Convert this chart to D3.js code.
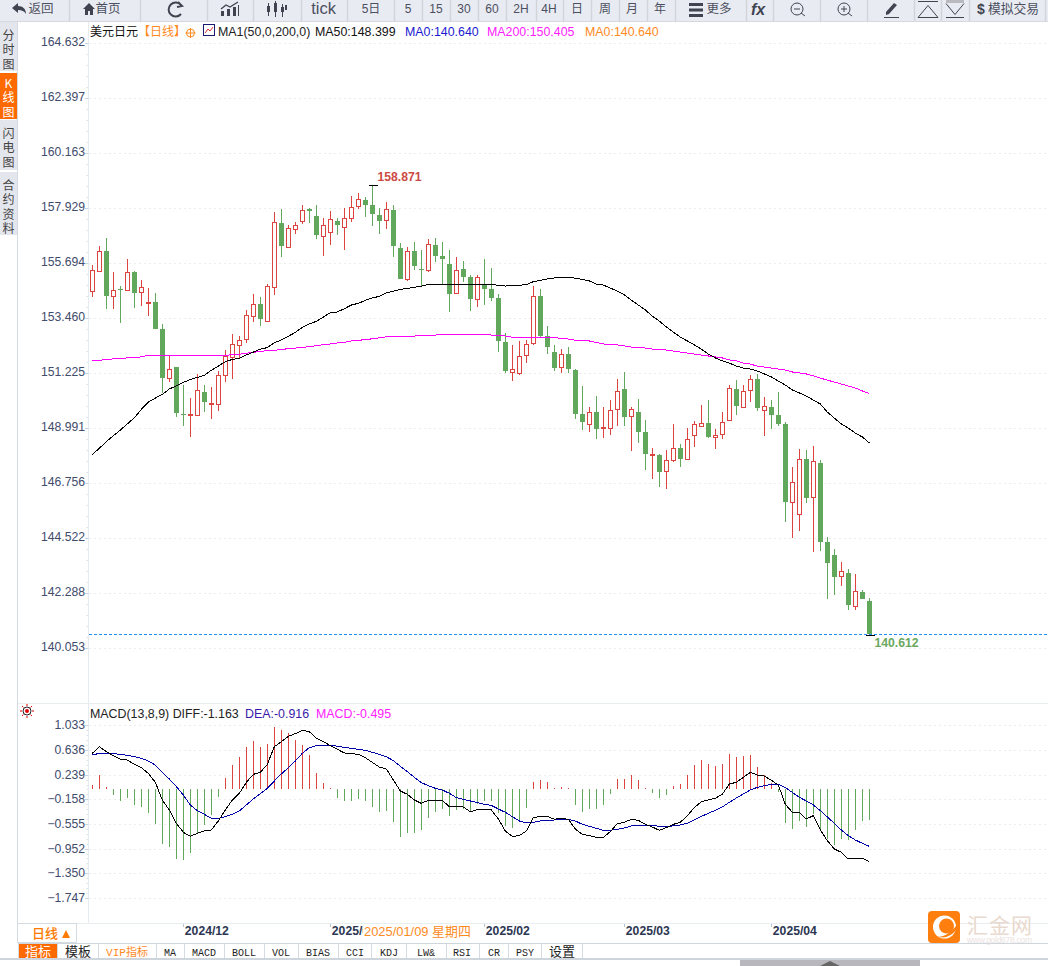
<!DOCTYPE html>
<html>
<head>
<meta charset="utf-8">
<title>美元日元</title>
<script src="https://cdn.jsdelivr.net/npm/d3@7"></script>
<style>
  html,body{margin:0;padding:0;background:#fff;overflow:hidden}
  svg{display:block}
  text{font-family:"Liberation Sans","Noto Sans CJK SC",sans-serif}
  .cjk{font-family:"Noto Sans CJK SC",sans-serif}
  .mono{font-family:"Liberation Mono","Noto Sans CJK SC",monospace}
</style>
</head>
<body>
<script>
//candles, oldest first
var openPrices = [154.56,155.37,156.20,154.35,154.65,154.60,155.33,154.52,154.07,154.11,
  153.01,151.02,151.47,149.56,149.52,149.52,150.45,149.98,149.97,151.14,
  151.88,152.36,152.61,153.54,154.03,153.34,154.72,157.32,156.37,157.08,
  157.40,157.89,157.60,156.79,156.95,157.40,157.16,157.52,158.01,158.25,
  158.06,157.64,157.44,157.86,156.30,155.07,156.18,155.45,155.44,156.43,
  155.98,155.65,154.48,155.45,155.14,154.26,154.81,154.64,154.27,152.48,
  151.29,151.25,151.96,152.44,154.35,152.73,152.08,151.47,152.00,151.35,
  149.56,149.15,149.64,148.99,149.02,149.79,150.59,149.48,149.65,148.84,
  147.91,147.91,147.24,147.72,148.19,147.76,148.71,149.10,149.19,148.65,
  148.75,149.32,150.58,149.84,150.53,150.99,149.72,149.86,149.53,149.17,
  145.98,145.50,147.74,146.19,147.58,144.37,143.84,142.98,143.11,141.79,
  142.34,141.96];
var closePrices = [155.41,156.18,154.38,154.60,154.60,155.33,154.50,154.72,154.11,153.04,
  151.05,151.42,149.63,149.53,149.56,150.53,150.07,150.01,151.14,151.92,
  152.40,152.57,153.58,154.03,153.45,154.76,157.36,156.41,157.12,157.24,
  157.85,157.83,156.83,157.24,157.48,157.27,157.52,157.97,158.29,158.08,
  157.71,157.43,157.89,156.41,155.07,156.18,155.60,155.44,156.47,156.01,
  155.88,154.46,155.41,155.15,154.26,155.13,154.67,154.30,152.55,151.33,
  151.39,151.92,152.40,154.35,152.76,152.31,151.46,152.00,151.42,149.59,
  149.26,149.64,148.98,149.03,149.72,150.49,149.47,149.76,148.86,147.96,
  147.94,147.23,147.69,148.18,147.75,148.54,149.15,149.19,148.64,148.71,
  149.24,150.62,149.88,150.49,150.98,149.83,149.88,149.55,149.17,146.01,
  146.80,147.73,146.17,147.65,144.39,143.53,142.96,143.18,141.83,142.37,
  142.07,140.64];
var highPrices = [155.63,156.40,156.71,155.33,154.77,155.87,155.37,155.00,154.69,154.48,
  153.23,151.94,151.50,150.75,150.22,151.18,150.75,150.66,151.31,152.16,
  152.82,152.74,153.80,154.45,154.33,154.84,157.78,157.90,157.24,157.36,
  158.06,157.93,158.06,157.52,157.81,157.52,157.93,158.43,158.55,158.39,
  158.871,157.94,158.17,158.06,156.51,156.34,156.56,156.24,156.68,156.71,
  156.56,156.24,155.94,155.78,155.21,155.21,155.87,155.49,154.44,152.85,
  152.36,152.53,152.57,154.77,154.64,153.15,152.36,152.20,152.28,151.39,
  150.70,149.84,150.31,149.86,150.14,151.00,151.28,149.86,150.18,149.33,
  148.18,147.96,148.11,149.17,148.35,148.99,149.28,149.94,150.14,148.95,
  149.64,150.75,150.95,150.75,151.16,151.20,150.25,150.14,150.47,149.25,
  147.42,148.15,148.11,148.27,147.70,144.56,144.09,143.56,143.28,143.07,
  142.42,142.10];
var lowPrices = [154.34,155.37,153.84,153.84,153.28,154.56,153.89,153.97,153.55,153.01,
  150.41,150.89,149.47,149.09,148.65,149.52,149.67,149.38,149.71,150.89,
  151.00,151.84,152.47,153.32,153.16,153.34,154.41,155.97,156.34,156.90,
  157.29,157.35,156.67,156.01,156.45,156.86,156.25,157.39,157.90,157.59,
  157.22,156.90,157.10,155.97,155.06,154.99,155.42,154.77,155.36,155.75,
  154.84,153.73,154.48,154.94,153.77,153.93,154.02,154.18,152.11,151.25,
  150.93,151.17,151.66,152.36,152.67,152.02,151.31,151.25,151.25,149.38,
  148.94,148.86,148.57,148.61,148.73,149.10,149.10,148.08,148.41,147.31,
  146.95,146.62,146.54,147.64,147.43,147.72,148.25,149.10,148.61,148.17,
  148.57,149.32,149.53,149.84,150.06,149.71,148.69,148.96,149.09,145.20,
  144.55,144.83,145.96,143.98,144.01,142.06,142.22,142.60,141.61,141.62,
  142.06,140.612];

//moving averages
var ma50 = [147.93,148.18,148.45,148.69,148.92,149.17,149.42,149.76,150.06,150.22,
  150.37,150.59,150.71,150.86,150.97,151.06,151.14,151.35,151.52,151.70,
  151.79,151.84,151.97,152.09,152.21,152.27,152.47,152.58,152.73,152.89,
  153.09,153.23,153.34,153.51,153.69,153.72,153.85,154.00,154.07,154.19,
  154.29,154.35,154.50,154.56,154.64,154.67,154.72,154.77,154.84,154.84,
  154.84,154.84,154.84,154.84,154.84,154.84,154.84,154.84,154.80,154.77,
  154.80,154.80,154.83,154.95,155.00,155.06,155.10,155.13,155.13,155.09,
  155.04,154.98,154.85,154.81,154.69,154.57,154.41,154.20,154.00,153.80,
  153.55,153.35,153.11,152.90,152.70,152.54,152.38,152.21,152.01,151.85,
  151.73,151.64,151.52,151.44,151.40,151.32,151.20,151.08,150.91,150.75,
  150.55,150.43,150.30,150.14,149.98,149.65,149.41,149.17,149.00,148.80,
  148.64,148.40];
var ma200 = [151.74,151.75,151.79,151.81,151.84,151.85,151.88,151.89,151.96,151.96,
  151.96,151.96,151.96,151.96,151.96,151.96,151.96,151.96,151.96,151.96,
  151.98,152.00,152.04,152.08,152.11,152.15,152.16,152.19,152.23,152.25,
  152.28,152.31,152.35,152.39,152.42,152.46,152.48,152.54,152.57,152.59,
  152.63,152.67,152.71,152.74,152.74,152.74,152.74,152.76,152.77,152.78,
  152.81,152.81,152.81,152.81,152.81,152.81,152.81,152.78,152.76,152.74,
  152.69,152.69,152.69,152.69,152.69,152.69,152.67,152.65,152.62,152.57,
  152.57,152.54,152.48,152.42,152.38,152.38,152.34,152.29,152.29,152.25,
  152.21,152.21,152.17,152.13,152.09,152.05,152.01,151.97,151.93,151.89,
  151.85,151.77,151.73,151.64,151.60,151.52,151.48,151.44,151.40,151.36,
  151.28,151.24,151.20,151.12,151.03,150.95,150.87,150.79,150.71,150.63,
  150.51,150.41];

//macd panel
var diffValues = [.582,.689,.609,.545,.486,.475,.405,.351,.260,.115,
  -.169,-.330,-.545,-.689,-.754,-.705,-.668,-.652,-.507,-.330,
  -.169,-.062,.115,.244,.276,.405,.689,.770,.856,.899,
  .952,.931,.824,.770,.706,.647,.588,.577,.566,.512,
  .437,.362,.330,.153,-.024,-.078,-.169,-.223,-.174,-.174,
  -.174,-.276,-.271,-.282,-.357,-.325,-.325,-.330,-.475,-.668,
  -.754,-.743,-.668,-.453,-.432,-.432,-.480,-.464,-.480,-.636,
  -.722,-.743,-.770,-.770,-.679,-.550,-.528,-.480,-.496,-.561,
  -.604,-.657,-.614,-.561,-.528,-.421,-.292,-.196,-.169,-.142,
  -.078,.089,.115,.196,.276,.233,.217,.148,.072,-.239,
  -.367,-.367,-.475,-.421,-.652,-.824,-.958,-1.011,-1.119,-1.119,
  -1.108,-1.163];
var deaValues = [.555,.582,.582,.577,.566,.550,.528,.502,.459,.394,
  .276,.169,.046,-.089,-.249,-.341,-.400,-.464,-.464,-.437,
  -.400,-.346,-.249,-.153,-.067,.019,.137,.250,.351,.459,
  .582,.673,.706,.711,.716,.695,.679,.663,.647,.630,
  .598,.566,.528,.464,.373,.287,.196,.110,.062,.019,
  -.008,-.062,-.131,-.158,-.185,-.212,-.239,-.255,-.314,-.367,
  -.437,-.507,-.539,-.528,-.507,-.496,-.491,-.480,-.480,-.507,
  -.561,-.593,-.625,-.657,-.657,-.641,-.620,-.587,-.577,-.577,
  -.577,-.593,-.593,-.587,-.571,-.545,-.491,-.432,-.384,-.335,
  -.282,-.207,-.137,-.072,-.008,.035,.062,.083,.083,.030,
  -.046,-.126,-.185,-.249,-.341,-.443,-.545,-.652,-.743,-.813,
  -.866,-.916];
var macdValues = [.072,.233,.040,-.089,-.185,-.137,-.249,-.282,-.378,-.555,
  -.877,-.925,-1.119,-1.135,-1.022,-.700,-.571,-.410,-.121,.185,
  .394,.523,.684,.781,.684,.732,1.006,.958,.909,.797,
  .716,.555,.266,.105,.020,-.137,-.185,-.185,-.153,-.185,
  -.282,-.362,-.346,-.523,-.764,-.700,-.700,-.652,-.459,-.362,
  -.314,-.426,-.330,-.314,-.346,-.233,-.185,-.185,-.378,-.587,
  -.620,-.491,-.298,.121,.153,.121,.020,.040,.020,-.249,
  -.362,-.314,-.314,-.249,-.072,.169,.169,.233,.153,.020,
  -.056,-.137,-.089,.056,.089,.233,.394,.475,.410,.378,
  .410,.571,.523,.539,.555,.362,.233,.105,-.040,-.539,
  -.636,-.507,-.604,-.394,-.652,-.797,-.893,-.797,-.813,-.652,
  -.507,-.495];

//tick labels
var priceTicks = [164.632,162.397,160.163,157.929,155.694,153.460,151.225,148.991,146.756,144.522,142.288,140.053];
var macdTicks = [1.033,0.636,0.239,-0.158,-0.555,-0.952,-1.350,-1.747];
var dateLabels = ["2024/12","2025/01","2025/02","2025/03","2025/04"];
var dateIndex = [13,34,56,76,97];

var toolbarLabels = ["返回","首页","tick","5日","5","15","30","60","2H","4H","日","周","月","年","更多","模拟交易"];
var toolbarCenters = [41,108,323.500,371,408,436,464,492,521,549,577,605,632,660,719,1013.500];
var toolbarSeps = [69,140,207,253,301,347,394,422,450,478,506,536,563,591,619,647,675,746,773,820,867,914,941,969,1045];

var tabLabels = ["指标","模板","VIP指标","MA","MACD","BOLL","VOL","BIAS","CCI","KDJ","LW&","RSI","CR","PSY","设置"];
var tabCenters = [38,78,127,170,204,244,281,318,355,389,426,462,494,525,562];
var tabSeps = [18,57,98,156,184,224,264,298,338,371,406,446,479,508,541,582];

var RED = "#dc453f", GREEN = "#62a85c", AXIS_TXT = "#414b6b";

var svg = d3.select("body").append("svg").attr("width",1048).attr("height",966);

var x = d3.scaleLinear().domain([0,111]).range([92.33,869.33]);
var y = d3.scaleLinear().domain([priceTicks[0],priceTicks[11]]).range([43.33,648.33]);
var yM = d3.scaleLinear().domain([macdTicks[0],macdTicks[7]]).range([725.33,898]);

var px = function(i){ return Math.floor(x(i)) + 0.5 };

// ---------- chart frame and grid ----------
var frame = svg.append("g");
frame.append("line").attr("x1",17.5).attr("x2",17.5).attr("y1",22).attr("y2",943).attr("stroke","#d5dbe3");
frame.append("line").attr("x1",88.5).attr("x2",88.5).attr("y1",22).attr("y2",923).attr("stroke","#e6ebf0");
frame.append("line").attr("x1",18).attr("x2",1048).attr("y1",703.5).attr("y2",703.5).attr("stroke","#e8edf0");
frame.append("line").attr("x1",76).attr("x2",1048).attr("y1",923.5).attr("y2",923.5).attr("stroke","#e8edf0");

function grid(ticks,scale){
  svg.append("g").selectAll("line").data(ticks).enter().append("line")
    .attr("x1",89).attr("x2",1048)
    .attr("y1",function(d){return Math.round(scale(d))+0.5})
    .attr("y2",function(d){return Math.round(scale(d))+0.5})
    .attr("stroke","#ececec").attr("stroke-dasharray","2,3");
}
grid(priceTicks,y);
grid(macdTicks,yM);

//small ticks on the value axis, five to a label
function minorTicks(ticks,scale){
  var step = (scale(ticks[1]) - scale(ticks[0])) / 5;
  var rows = d3.range(0,(ticks.length-1)*5+1);
  svg.append("g").selectAll("line").data(rows).enter().append("line")
    .attr("x1",function(d){return d%5==0 ? 85 : 86.5}).attr("x2",88)
    .attr("y1",function(d){return Math.round(scale(ticks[0])+d*step)+0.5})
    .attr("y2",function(d){return Math.round(scale(ticks[0])+d*step)+0.5})
    .attr("stroke",function(d){return d%5==0 ? "#c4d6e6" : "#d8e2ea"});
}
minorTicks(priceTicks,y);
minorTicks(macdTicks,yM);

function valueAxis(ticks,scale,fmt,shift){
  var g = svg.append("g").attr("transform","translate(88,0)")
    .call(d3.axisLeft(scale).tickValues(ticks).tickSize(0).tickPadding(3).tickFormat(fmt));
  g.select(".domain").remove();
  g.selectAll("text").attr("fill",AXIS_TXT).attr("font-size",12.2)
    .attr("font-family",'"Liberation Sans"').attr("transform","translate(0,"+shift+")");
}
valueAxis(priceTicks,y,d3.format(".3f"),-1.3);
valueAxis(macdTicks,yM,d3.format(".3f"),-0.5);

// ---------- candles ----------
var candles = d3.range(openPrices.length);
var candleG = svg.append("g").attr("shape-rendering","crispEdges");

var isUp = function(i){ return closePrices[i] > openPrices[i] };

candleG.selectAll(".wick").data(candles).enter().append("line")
  .attr("class","wick")
  .attr("x1",px).attr("x2",px)
  .attr("y1",function(i){return y(highPrices[i])})
  .attr("y2",function(i){return y(lowPrices[i])})
  .attr("stroke",function(i){return isUp(i) ? RED : GREEN});

candleG.selectAll(".upBox").data(candles.filter(isUp)).enter().append("rect")
  .attr("class","upBox")
  .attr("x",function(i){return px(i)-2})
  .attr("width",4)
  .attr("y",function(i){return Math.round(y(closePrices[i]))+0.5})
  .attr("height",function(i){return Math.max(0,Math.round(y(openPrices[i]))-Math.round(y(closePrices[i])))})
  .attr("fill","#fff").attr("stroke",RED);

candleG.selectAll(".downBox").data(candles.filter(function(i){return !isUp(i)})).enter().append("rect")
  .attr("class","downBox")
  .attr("x",function(i){return px(i)-2.5})
  .attr("width",5)
  .attr("y",function(i){return Math.round(y(openPrices[i]))})
  .attr("height",function(i){return Math.max(1,Math.round(y(closePrices[i]))-Math.round(y(openPrices[i])))})
  .attr("fill",GREEN);

// ---------- moving averages ----------
function priceLine(values,scale,color){
  svg.append("path")
    .attr("d",d3.line().x(function(d,i){return x(i)}).y(function(d){return scale(d)})(values))
    .attr("fill","none").attr("stroke",color).attr("stroke-width",1).attr("shape-rendering","crispEdges");
}
priceLine(ma200,y,"#ff00ff");
priceLine(ma50,y,"#000");

//last price line
var lastClose = closePrices[closePrices.length-1];
svg.append("line").attr("x1",89).attr("x2",1048)
  .attr("y1",Math.round(y(lastClose))+0.5).attr("y2",Math.round(y(lastClose))+0.5)
  .attr("stroke","#1e8fff").attr("stroke-dasharray","3,2");

//high and low markers
var hiIdx = d3.maxIndex(highPrices), loIdx = d3.minIndex(lowPrices);
svg.append("path").attr("stroke","#000").attr("shape-rendering","crispEdges")
  .attr("d","M"+(px(hiIdx)-4)+","+(Math.round(y(highPrices[hiIdx]))+.5)+"h9"
    +"M"+(px(loIdx)-4)+","+(Math.round(y(lowPrices[loIdx]))+.5)+"h9");
svg.append("text").attr("x",px(hiIdx)+5).attr("y",y(highPrices[hiIdx])-4)
  .attr("font-size",12.2).attr("font-weight","bold").attr("fill","#cc4a45").text(d3.format(".3f")(highPrices[hiIdx]));
svg.append("text").attr("x",px(loIdx)+5).attr("y",y(lowPrices[loIdx])+12)
  .attr("font-size",12.2).attr("font-weight","bold").attr("fill","#6aa860").text(d3.format(".3f")(lowPrices[loIdx]));

// ---------- macd ----------
svg.append("g").attr("shape-rendering","crispEdges").selectAll("line").data(candles).enter().append("line")
  .attr("x1",px).attr("x2",px)
  .attr("y1",yM(0))
  .attr("y2",function(i){return yM(macdValues[i])})
  .attr("stroke",function(i){return macdValues[i] > 0 ? RED : GREEN});
priceLine(deaValues,yM,"#0000a8");
priceLine(diffValues,yM,"#000");

// ---------- legends ----------
function label(parent,tx,ty,txt,color,size,cls){
  return parent.append("text").attr("x",tx).attr("y",ty).attr("fill",color)
    .attr("font-size",size||12.4).attr("class",cls||null).text(txt);
}
var legend = svg.append("g");
label(legend,90,35.5,"美元日元","#111",12,"cjk");
label(legend,138,35.5,"【日线】","#ff8a1e",12,"cjk");
legend.append("circle").attr("cx",190.5).attr("cy",33).attr("r",4).attr("fill","none").attr("stroke","#ff8a1e");
legend.append("path").attr("d","M185.5,33h10M190.5,28v10").attr("stroke","#ff8a1e");
legend.append("rect").attr("x",203.5).attr("y",24.5).attr("width",11).attr("height",11).attr("fill","#fff").attr("stroke","#1a1a70");
legend.append("path").attr("d","M205,33l3,-4l2,2l3,-4").attr("fill","none").attr("stroke","#e03030");
label(legend,218,35.5,"MA1(50,0,200,0)","#222");
label(legend,315,35.5,"MA50:148.399","#111");
label(legend,405,35.5,"MA0:140.640","#1a1ad0");
label(legend,487,35.5,"MA200:150.405","#ff20ff");
label(legend,585,35.5,"MA0:140.640","#ff8a1e");

label(legend,90,717.5,"MACD(13,8,9) DIFF:-1.163","#222");
label(legend,245,717.5,"DEA:-0.916","#3a1aa8");
label(legend,316,717.5,"MACD:-0.495","#ff20ff");

//little sun next to the macd legend
var sun = svg.append("g").attr("transform","translate(27,711)");
sun.append("circle").attr("r",4).attr("fill","#fff").attr("stroke","#222");
sun.append("circle").attr("r",2).attr("fill","#e00000");
sun.selectAll("line").data(d3.range(8)).enter().append("line")
  .attr("x1",function(d){return 5*Math.cos(d*Math.PI/4)}).attr("y1",function(d){return 5*Math.sin(d*Math.PI/4)})
  .attr("x2",function(d){return 7*Math.cos(d*Math.PI/4)}).attr("y2",function(d){return 7*Math.sin(d*Math.PI/4)})
  .attr("stroke","#e00000");

// ---------- date row ----------
var dates = svg.append("g");
dates.selectAll("line").data(dateIndex).enter().append("line")
  .attr("x1",px).attr("x2",px).attr("y1",924).attr("y2",927).attr("stroke","#b8c4d0");
dates.selectAll("text").data(dateLabels).enter().append("text")
  .attr("x",function(d,i){return x(dateIndex[i])+1.5}).attr("y",935)
  .attr("font-size",12.2).attr("font-weight","bold").attr("fill","#2c3652").text(function(d){return d});
dates.append("rect").attr("x",363).attr("y",924).attr("width",110).attr("height",18).attr("fill","#fff");
label(dates,364,935.5,"2025/01/09 星期四","#ff8a1e",12.9);

svg.append("rect").attr("x",17.5).attr("y",923.5).attr("width",59).attr("height",19).attr("fill","#fff").attr("stroke","#d5dbe3");
label(svg,32,938,"日线","#ff7a00",13,"cjk").attr("font-weight",500);
svg.append("path").attr("d","M62,938l4,-8l4,8z").attr("fill","#ff7a00");

// ---------- tab bar ----------
var tabs = svg.append("g");
tabs.append("line").attr("x1",18).attr("x2",1048).attr("y1",943.5).attr("y2",943.5).attr("stroke","#cdd5dd");
tabs.append("rect").attr("x",18).attr("y",944).attr("width",39).attr("height",14).attr("fill","#ff6a00");
tabs.selectAll("line.sep").data(tabSeps).enter().append("line").attr("class","sep")
  .attr("x1",function(d){return d+.5}).attr("x2",function(d){return d+.5}).attr("y1",944).attr("y2",958).attr("stroke","#d5dbe3");
tabs.selectAll("text").data(tabLabels).enter().append("text")
  .attr("x",function(d,i){return tabCenters[i]}).attr("y",955.5)
  .attr("text-anchor","middle").attr("font-size",function(d,i){return i<2||i==14 ? 13 : i==2 ? 11 : 10})
  .attr("class","mono")
  .attr("fill",function(d,i){return i==0 ? "#fff" : i==2 ? "#ff8a1e" : "#222"})
  .text(function(d){return d});
svg.append("rect").attr("x",0).attr("y",958).attr("width",1048).attr("height",2).attr("fill","#cfd5dc");
svg.append("rect").attr("x",740).attr("y",960).attr("width",180).attr("height",6).attr("fill","#b7b7bd");
svg.append("path").attr("d","M820,966l10,-5l10,5z").attr("fill","#666");

// ---------- logo ----------
var logo = svg.append("g");
logo.append("rect").attr("x",928).attr("y",911).attr("width",32).attr("height",32).attr("rx",4).attr("fill","#ff7f0e");
logo.append("circle").attr("cx",944.5).attr("cy",927).attr("r",11.5).attr("fill","#fff");
logo.append("circle").attr("cx",946.5).attr("cy",926).attr("r",7.5).attr("fill","#ff7f0e");
logo.append("path").attr("d","M933,935 Q944,941 957,925 L957,929 Q947,942 933,935z").attr("fill","#ff7f0e");
logo.append("text").attr("x",967).attr("y",933).attr("class","cjk").attr("font-size",21)
  .attr("textLength",65).attr("fill","#e9d9ce").text("汇金网");
logo.append("text").attr("x",967).attr("y",943).attr("font-size",8.5).attr("textLength",65)
  .attr("fill","#ebe3de").text("www.gold678.com");

// ---------- toolbar ----------
var bar = svg.append("g");
bar.append("rect").attr("width",1048).attr("height",21).attr("fill","#e9ebf2");
bar.append("line").attr("x1",0).attr("x2",1048).attr("y1",21.5).attr("y2",21.5).attr("stroke","#d6d8de");
bar.selectAll("line.sep").data(toolbarSeps).enter().append("line").attr("class","sep")
  .attr("x1",function(d){return d+.5}).attr("x2",function(d){return d+.5}).attr("y1",0).attr("y2",21)
  .attr("stroke","#d2d4da").attr("stroke-width",1.5);
bar.selectAll("text").data(toolbarLabels).enter().append("text")
  .attr("x",function(d,i){return toolbarCenters[i]}).attr("y",function(d){return d=="tick" ? 14 : 12.5})
  .attr("text-anchor","middle").attr("fill","#4b5060")
  .attr("font-size",function(d){return d=="tick" ? 16.5 : d=="模拟交易" ? 12.8 : d.length==2 && d>"z" ? 12.5 : 12})
  .text(function(d){return d});

var ICON = "#3f4450";
//back arrow, home, refresh
bar.append("path").attr("fill",ICON).attr("d","M12,8l6,-5v3c5,0 8,3 8,8c-2,-3 -4,-4 -8,-4v3z");
bar.append("path").attr("fill",ICON).attr("d","M83,9l6,-6l6,6h-2v6h-3v-4h-2v4h-3v-6z");
bar.append("path").attr("fill","none").attr("stroke",ICON).attr("stroke-width",2)
  .attr("d","M181,5A7,7 0 1 0 181,14M178,2l4,4l-5,1");
//line chart and candle icons
bar.append("path").attr("fill",ICON).attr("d","M221,16h3v-5h-3zM227,16h3v-7h-3zM233,16h3v-9h-3zM238,16h1v-11h-1z");
bar.append("path").attr("fill","none").attr("stroke",ICON).attr("stroke-width",1.3).attr("d","M221,9l5,-4l4,2l8,-5");
bar.append("path").attr("fill",ICON).attr("d","M267,6h3v6h-3zM274,3h3v9h-3zM281,7h3v5h-3zM285,5h2v5h-2z");
bar.append("path").attr("stroke",ICON).attr("d","M268.5,3v13M275.5,1v16M282.5,4v13");
//menu, fx
bar.append("path").attr("fill",ICON).attr("d","M689,3h14v3h-14zM689,8.500h14v3h-14zM689,14h14v3h-14z");
bar.append("text").attr("x",751).attr("y",15).attr("font-size",16).attr("font-weight","bold").attr("font-style","italic")
  .attr("fill",ICON).attr("font-family","Liberation Serif").text("fx");
//zoom in and out
[797,844].forEach(function(cx,n){
  bar.append("circle").attr("cx",cx).attr("cy",9).attr("r",6).attr("fill","none").attr("stroke",ICON);
  bar.append("path").attr("stroke",ICON).attr("d","M"+(cx+4)+","+13+"l4,3M"+(cx-3)+",9h6"+(n ? "M"+cx+",6v6" : ""));
});
//pencil, triangles, dollar
bar.append("path").attr("fill",ICON).attr("d","M886,12l8,-9l3,2l-8,9l-3,1z");
bar.append("path").attr("stroke",ICON).attr("d","M884,17.500h15");
bar.append("path").attr("fill","none").attr("stroke",ICON).attr("d","M918,17.500l10,-12l10,12zM918,1.500h20");
bar.append("path").attr("fill","none").attr("stroke",ICON).attr("d","M946,3.500l9,11l9,-11M946,17.500h18");
bar.append("path").attr("fill","#b8bac0").attr("d","M946,0h18v3h-18z");
bar.append("text").attr("x",977).attr("y",14).attr("font-size",14).attr("font-weight","bold").attr("fill",ICON).text("$");

// ---------- side tabs ----------
var sideLabels = [["分","时","图"],["K","线","图"],["闪","电","图"],["合","约","资","料"]];
var sideTops = [22,73,120,172];
var sideHeights = [50,47,51,64];
var sideFirst = [39.5,87.5,137.5,189.5];
var side = svg.append("g");
side.selectAll("rect").data(sideLabels).enter().append("rect")
  .attr("x",0).attr("width",17)
  .attr("y",function(d,i){return sideTops[i]})
  .attr("height",function(d,i){return sideHeights[i]-1})
  .attr("fill",function(d,i){return i==1 ? "#ff6a00" : "#e4e6ee"});
sideLabels.forEach(function(chars,n){
  side.selectAll("text.s"+n).data(chars).enter().append("text").attr("class","cjk s"+n)
    .attr("x",8.5).attr("text-anchor","middle")
    .attr("y",function(d,i){return sideFirst[n]+i*14.5})
    .attr("font-size",12)
    .attr("fill",n==1 ? "#fff" : "#444")
    .text(function(d){return d});
});
</script>
</body>
</html>
